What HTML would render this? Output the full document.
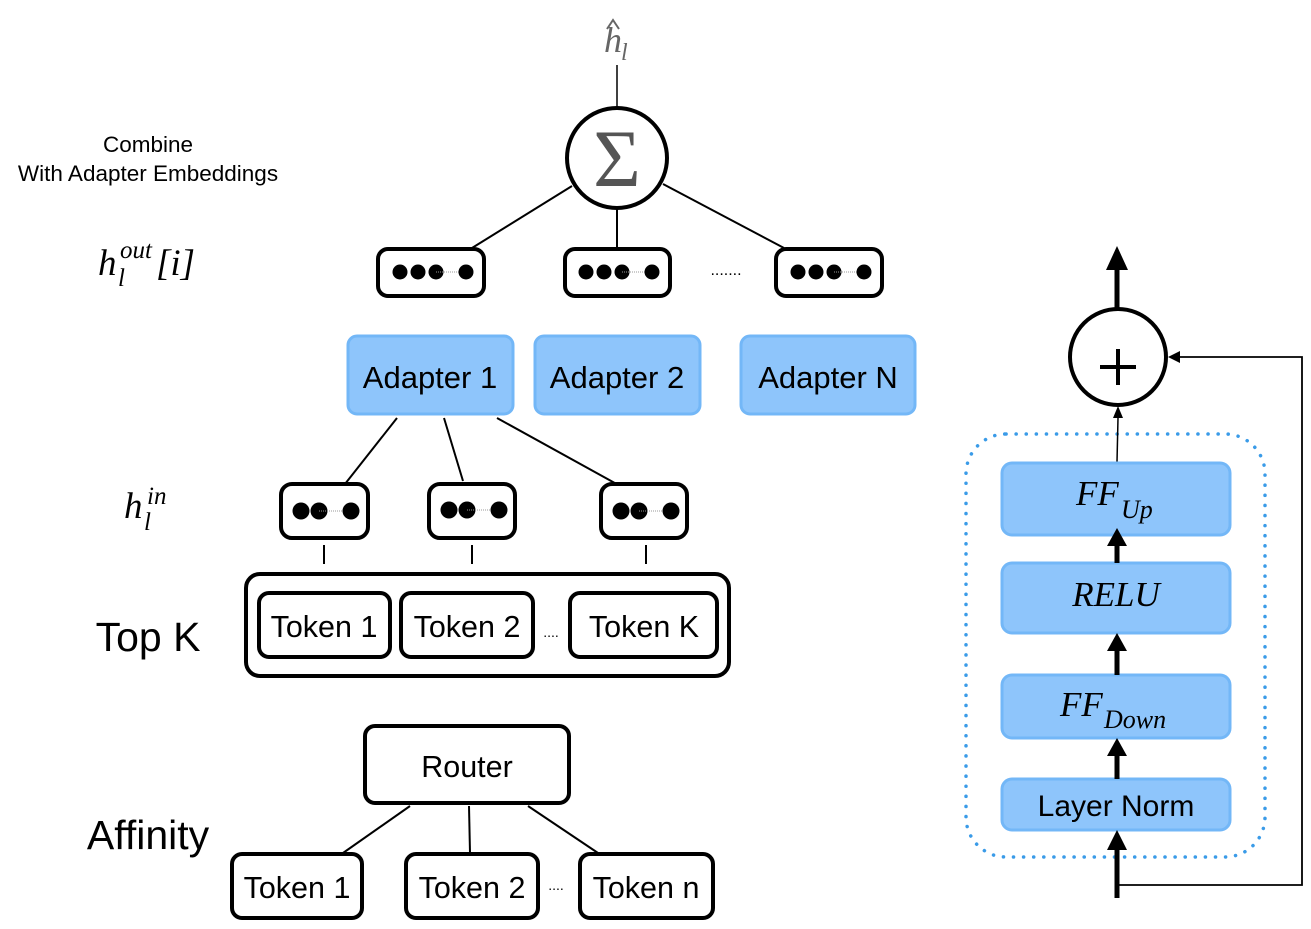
<!DOCTYPE html>
<html><head><meta charset="utf-8"><style>
html,body{margin:0;padding:0;background:#fff;}
svg{display:block;}
.s{font-family:"Liberation Sans",sans-serif;}
.m{font-family:"Liberation Serif",serif;font-style:italic;}
</style></head><body>
<svg width="1311" height="929" viewBox="0 0 1311 929" xmlns="http://www.w3.org/2000/svg">
<defs>
<g id="d3"><circle cx="0" cy="0" r="7.5"/><circle cx="18" cy="0" r="7.5"/><circle cx="36" cy="0" r="7.5"/><line x1="36" y1="0" x2="66" y2="0" stroke="#999" stroke-width="1" stroke-dasharray="1,1"/><circle cx="66" cy="0" r="7.5"/></g>
<g id="d2"><circle cx="0" cy="0" r="8.5"/><circle cx="18" cy="0" r="8.5"/><line x1="18" y1="0" x2="50" y2="0" stroke="#999" stroke-width="1" stroke-dasharray="1,1"/><circle cx="50" cy="0" r="8.5"/></g>
</defs>
<!-- top -->
<text x="604" y="52" class="m" font-size="36" fill="#666">h</text>
<text x="621" y="60" class="m" font-size="24" fill="#666">l</text>
<polyline points="607,29 613,20 619,29" fill="none" stroke="#666" stroke-width="2"/>
<line x1="617" y1="65" x2="617" y2="108" stroke="#000" stroke-width="1.5"/>
<circle cx="617" cy="158" r="50" fill="#fff" stroke="#000" stroke-width="4"/>
<text x="617" y="186" text-anchor="middle" font-family="Liberation Serif,serif" font-size="82" fill="#555">Σ</text>
<g stroke="#000" stroke-width="2"><line x1="572" y1="186" x2="472" y2="248"/><line x1="617" y1="208" x2="617" y2="248"/><line x1="663" y1="184" x2="784" y2="248"/></g>
<g fill="#fff" stroke="#000" stroke-width="4">
<rect x="378" y="249" width="106" height="47" rx="10"/>
<rect x="565" y="249" width="105" height="47" rx="10"/>
<rect x="776" y="249" width="106" height="47" rx="10"/>
</g>
<use href="#d3" x="400" y="272"/><use href="#d3" x="586" y="272"/><use href="#d3" x="798" y="272"/>
<text x="726" y="275" text-anchor="middle" class="s" font-size="16">.......</text>
<text x="148" y="152" text-anchor="middle" class="s" font-size="22.5">Combine</text>
<text x="148" y="181" text-anchor="middle" class="s" font-size="22.5">With Adapter Embeddings</text>
<text x="98" y="275" class="m" font-size="37">h</text>
<text x="118" y="286" class="m" font-size="25">l</text>
<text x="120" y="258" class="m" font-size="25">out</text>
<text x="156" y="275" class="m" font-size="37">[i]</text>
<!-- adapters -->
<g fill="#8ec5fb" stroke="#73b7f7" stroke-width="3">
<rect x="348" y="336" width="165" height="78" rx="9"/>
<rect x="535" y="336" width="165" height="78" rx="9"/>
<rect x="741" y="336" width="174" height="78" rx="9"/>
</g>
<g class="s" font-size="31" text-anchor="middle">
<text x="430" y="388">Adapter 1</text><text x="617" y="388">Adapter 2</text><text x="828" y="388">Adapter N</text>
</g>
<g stroke="#000" stroke-width="2"><line x1="397" y1="418" x2="345" y2="484"/><line x1="444" y1="418" x2="463" y2="481"/><line x1="497" y1="418" x2="622" y2="487"/></g>
<text x="124" y="518" class="m" font-size="37">h</text>
<text x="144" y="530" class="m" font-size="25">l</text>
<text x="147" y="504" class="m" font-size="25">in</text>
<g fill="#fff" stroke="#000" stroke-width="4">
<rect x="281" y="484" width="87" height="54" rx="11"/>
<rect x="429" y="484" width="86" height="54" rx="11"/>
<rect x="601" y="484" width="86" height="54" rx="11"/>
</g>
<use href="#d2" x="301" y="511"/><use href="#d2" x="449" y="510"/><use href="#d2" x="621" y="511"/>
<g stroke="#000" stroke-width="2"><line x1="324" y1="545" x2="324" y2="564"/><line x1="472" y1="545" x2="472" y2="564"/><line x1="646" y1="545" x2="646" y2="564"/></g>
<rect x="246" y="574" width="483" height="102" rx="14" fill="#fff" stroke="#000" stroke-width="4"/>
<g fill="#fff" stroke="#000" stroke-width="4">
<rect x="259" y="593" width="131" height="64" rx="10"/>
<rect x="401" y="593" width="132" height="64" rx="10"/>
<rect x="570" y="593" width="147" height="64" rx="10"/>
</g>
<g class="s" font-size="30.5" text-anchor="middle">
<text x="324" y="637">Token 1</text><text x="467" y="637">Token 2</text><text x="644" y="637">Token K</text>
</g>
<text x="551" y="637" text-anchor="middle" class="s" font-size="14">....</text>
<text x="148" y="651" text-anchor="middle" class="s" font-size="41">Top K</text>
<!-- router -->
<rect x="365" y="726" width="204" height="77" rx="10" fill="#fff" stroke="#000" stroke-width="4"/>
<text x="467" y="777" text-anchor="middle" class="s" font-size="30.5">Router</text>
<g stroke="#000" stroke-width="2"><line x1="410" y1="806" x2="343" y2="853"/><line x1="469" y1="806" x2="470" y2="853"/><line x1="528" y1="806" x2="598" y2="853"/></g>
<g fill="#fff" stroke="#000" stroke-width="4">
<rect x="232" y="854" width="130" height="64" rx="10"/>
<rect x="406" y="854" width="132" height="64" rx="10"/>
<rect x="580" y="854" width="133" height="64" rx="10"/>
</g>
<g class="s" font-size="30.5" text-anchor="middle">
<text x="297" y="898">Token 1</text><text x="472" y="898">Token 2</text><text x="646" y="898">Token n</text>
</g>
<text x="556" y="890" text-anchor="middle" class="s" font-size="14">....</text>
<text x="148" y="849" text-anchor="middle" class="s" font-size="41">Affinity</text>
<!-- right -->
<line x1="1117" y1="308" x2="1117" y2="268" stroke="#000" stroke-width="5"/>
<polygon points="1117,246 1106,270 1128,270" fill="#000"/>
<circle cx="1118" cy="357" r="48" fill="#fff" stroke="#000" stroke-width="4"/>
<line x1="1100" y1="367" x2="1136" y2="367" stroke="#000" stroke-width="4"/>
<line x1="1118" y1="349" x2="1118" y2="385" stroke="#000" stroke-width="4"/>
<rect x="966" y="434" width="299" height="423" rx="40" fill="none" stroke="#3a9be8" stroke-width="3.5" stroke-dasharray="0.1,10" stroke-linecap="round"/>
<line x1="1117" y1="462" x2="1118" y2="418" stroke="#000" stroke-width="1.5"/>
<polygon points="1118,406 1113,418 1123,418" fill="#000"/>
<g fill="#8ec5fb" stroke="#73b7f7" stroke-width="3">
<rect x="1002" y="463" width="228" height="72" rx="10"/>
<rect x="1002" y="563" width="228" height="70" rx="10"/>
<rect x="1002" y="675" width="228" height="63" rx="10"/>
<rect x="1002" y="779" width="228" height="51" rx="10"/>
</g>
<text x="1076" y="505" class="m" font-size="35">FF</text><text x="1121" y="518" class="m" font-size="26">Up</text>
<text x="1116" y="606" text-anchor="middle" class="m" font-size="35">RELU</text>
<text x="1060" y="716" class="m" font-size="35">FF</text><text x="1104" y="728" class="m" font-size="26">Down</text>
<text x="1116" y="816" text-anchor="middle" class="s" font-size="30">Layer Norm</text>
<g fill="#000">
<rect x="1114.5" y="545" width="5" height="18"/><polygon points="1117,528 1107,546 1127,546"/>
<rect x="1114.5" y="650" width="5" height="25"/><polygon points="1117,633 1107,651 1127,651"/>
<rect x="1114.5" y="755" width="5" height="24"/><polygon points="1117,738 1107,756 1127,756"/>
<rect x="1114.5" y="848" width="5" height="50"/><polygon points="1117,830 1107,850 1127,850"/>
</g>
<polyline points="1117,885 1302,885 1302,357 1174,357" fill="none" stroke="#000" stroke-width="1.8"/>
<polygon points="1168,357 1180,351 1180,363" fill="#000"/>
</svg>
</body></html>
